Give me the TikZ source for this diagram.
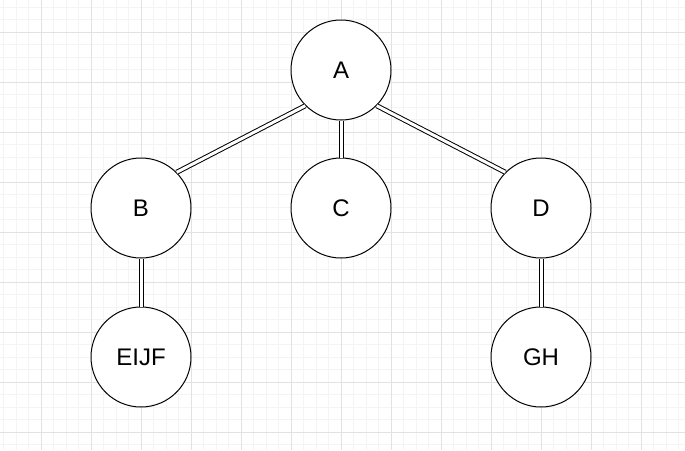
\documentclass[tikz,border=0pt]{standalone}
\usepackage{fontspec}
\setmainfont{Liberation Sans}
\begin{document}
\begin{tikzpicture}[x=1pt,y=-1pt,
  treenode/.style={circle,draw=black,line width=1pt,fill=white,minimum size=100pt,inner sep=0pt,font=\fontsize{24}{28}\selectfont},
  link/.style={draw=black,line width=1pt,double=white,double distance=3pt},
  minorgrid/.style={draw={rgb,255:red,244;green,244;blue,244},line width=0.8pt},
  majorgrid/.style={draw={rgb,255:red,226;green,226;blue,226},line width=0.8pt}]
\useasboundingbox (0,0) rectangle (685,450);
\fill[white] (0,0) rectangle (685,450);
% background grid: fine lines every 12.5, heavier every 50
\foreach \i in {-3,...,52} {
  \draw[minorgrid] (41+12.5*\i,0) -- (41+12.5*\i,450);
}
\foreach \i in {-3,...,36} {
  \draw[minorgrid] (0,32+12.5*\i) -- (685,32+12.5*\i);
}
\foreach \i in {0,...,13} {
  \draw[majorgrid] (41+50*\i-50,0) -- (41+50*\i-50,450);
}
\foreach \i in {0,...,9} {
  \draw[majorgrid] (0,32+50*\i-50) -- (685,32+50*\i-50);
}
% tree nodes
\node[treenode] (A) at (341,70) {A};
\node[treenode] (B) at (141,208) {B};
\node[treenode] (C) at (341,208) {C};
\node[treenode] (D) at (541,208) {D};
\node[treenode] (E) at (141,357) {EIJF};
\node[treenode] (G) at (541,357) {GH};
% connectors
\draw[link] (A.south west) -- (B.north east);
\draw[link] (A) -- (C);
\draw[link] (A.south east) -- (D.north west);
\draw[link] (B) -- (E);
\draw[link] (D) -- (G);
\end{tikzpicture}
\end{document}
